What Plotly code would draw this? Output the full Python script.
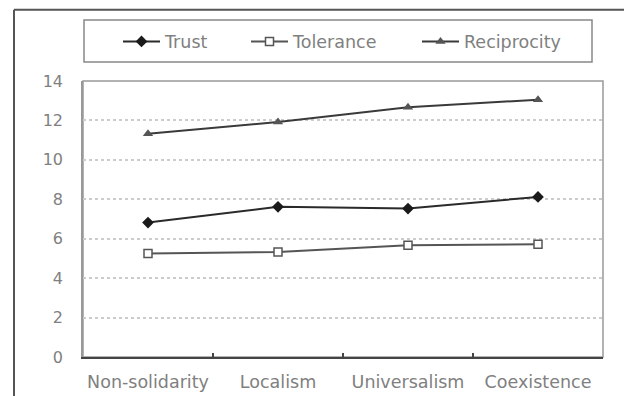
import plotly.graph_objects as go

categories = ["Non-solidarity", "Localism", "Universalism", "Coexistence"]
trust = [6.82, 7.62, 7.53, 8.12]
tolerance = [5.25, 5.33, 5.67, 5.72]
reciprocity = [11.33, 11.92, 12.67, 13.05]
y_ticks = [0, 2, 4, 6, 8, 10, 12, 14]

W, H = 624, 396
L, R, T, B = 83, 603, 80.5, 357  # plot area in pixels


def px(x):
    return (x - L) / (R - L)


def py(y):
    return (B - y) / (B - T)


text_font = dict(family="DejaVu Sans", size=17.5, color="#808080")

fig = go.Figure()

fig.add_trace(go.Scatter(
    x=categories, y=trust, name="Trust", mode="lines+markers",
    line=dict(color="#2a2a2a", width=2),
    marker=dict(symbol="diamond", size=9, color="#1a1a1a"),
    legend="legend",
))
fig.add_trace(go.Scatter(
    x=categories, y=tolerance, name="Tolerance", mode="lines+markers",
    line=dict(color="#555555", width=2),
    marker=dict(symbol="square", size=8, color="white",
                line=dict(color="#555555", width=1.5)),
    legend="legend2",
))
fig.add_trace(go.Scatter(
    x=categories, y=reciprocity, name="Reciprocity", mode="lines+markers",
    line=dict(color="#3a3a3a", width=2),
    marker=dict(symbol="triangle-up", size=9, color="#555555"),
    legend="legend3",
))

leg_common = dict(orientation="h", yanchor="middle", xanchor="left",
                  y=py(41), bgcolor="rgba(0,0,0,0)", borderwidth=0,
                  font=text_font, itemclick=False, itemwidth=37, visible=True)

fig.update_layout(
    width=W, height=H, showlegend=True,
    margin=dict(l=L, r=W - R, t=T, b=H - B, autoexpand=False),
    paper_bgcolor="white", plot_bgcolor="white",
    legend=dict(x=px(118), **leg_common),
    legend2=dict(x=px(246), **leg_common),
    legend3=dict(x=px(417), **leg_common),
    xaxis=dict(
        type="category", range=[-0.5, 3.5], automargin=False, tickangle=0,
        tickson="boundaries", ticks="inside", ticklen=4,
        tickcolor="#444444", tickwidth=1.5,
        showline=True, linecolor="#444444", linewidth=2,
        showgrid=False, tickfont=text_font, ticklabelstandoff=8,
    ),
    yaxis=dict(
        range=[0, 14], tickvals=y_ticks, ticks="", automargin=False,
        showline=True, linecolor="#999999", linewidth=1.5,
        showgrid=True, gridcolor="#cccccc", griddash="dot", gridwidth=1.5,
        zeroline=False,
        tickfont=dict(family="DejaVu Sans", size=16, color="#808080"),
        ticklabelstandoff=15,
    ),
    shapes=[
        # plot area frame
        dict(type="rect", xref="paper", yref="paper", x0=0, x1=1, y0=0, y1=1,
             line=dict(color="#999999", width=1.5), layer="below"),
        # legend frame
        dict(type="rect", xref="paper", yref="paper",
             x0=px(84), x1=px(592), y0=py(61.5), y1=py(19.5),
             line=dict(color="#888888", width=1.5)),
        # outer figure frame (top and left edges)
        dict(type="line", xref="paper", yref="paper",
             x0=px(14), x1=px(W + 5), y0=py(9), y1=py(9),
             line=dict(color="#555555", width=2)),
        dict(type="line", xref="paper", yref="paper",
             x0=px(14), x1=px(14), y0=py(9), y1=py(H + 20),
             line=dict(color="#555555", width=2)),
    ],
)

fig.write_html("out.html")
